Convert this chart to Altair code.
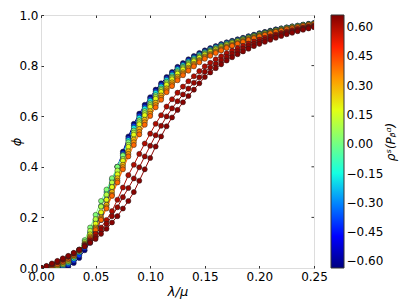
import altair as alt
import pandas as pd

# lambda/mu sample positions
lam_mu = [0.000, 0.005, 0.010, 0.015, 0.020, 0.025, 0.030, 0.035, 0.040, 0.045,
          0.050, 0.055, 0.060, 0.065, 0.070, 0.075, 0.080, 0.085, 0.090, 0.095,
          0.100, 0.105, 0.110, 0.115, 0.120, 0.125, 0.130, 0.135, 0.140, 0.145,
          0.150, 0.155, 0.160, 0.165, 0.170, 0.175, 0.180, 0.185, 0.190, 0.195,
          0.200, 0.205, 0.210, 0.215, 0.220, 0.225, 0.230, 0.235, 0.240, 0.245,
          0.250]

rho_values = [-0.63, -0.40, -0.18, 0.02, 0.10, 0.18, 0.28, 0.34, 0.40, 0.60, 0.63, 0.65]

phi_m063 = [0, 0, 0, 0, .002, .006, .02, .04, .07, .10, .14, .19, .25, .32, .40,
            .46, .52, .57, .61, .645, .675, .705, .73, .755, .775, .795, .81, .825, .838, .85,
            .86, .869, .877, .885, .892, .898, .904, .91, .916, .922, .928, .933, .938, .943,
            .947, .951, .955, .958, .962, .965, .968]
phi_m040 = [0, 0, 0, .002, .006, .014, .03, .05, .08, .12, .165, .215, .27, .335, .40,
            .453, .512, .562, .602, .637, .668, .698, .724, .749, .770, .790, .805, .821, .834, .846,
            .857, .866, .874, .883, .890, .896, .902, .908, .915, .921, .927, .932, .937, .942,
            .946, .950, .954, .957, .961, .964, .967]
phi_m018 = [0, 0, .002, .005, .011, .021, .038, .062, .097, .14, .19, .245, .30, .35, .40,
            .447, .505, .554, .594, .630, .661, .692, .717, .743, .764, .785, .801, .816, .830, .843,
            .854, .863, .872, .880, .888, .894, .900, .907, .913, .919, .925, .931, .936, .941,
            .945, .949, .953, .957, .961, .964, .967]
phi_p002 = [0, .001, .003, .007, .014, .025, .045, .07, .11, .16, .21, .265, .31, .355, .40,
            .445, .497, .543, .584, .620, .651, .683, .709, .736, .757, .778, .795, .811, .825, .838,
            .850, .859, .868, .877, .885, .892, .898, .905, .911, .918, .924, .929, .934, .940,
            .944, .948, .953, .956, .960, .963, .966]
phi_p010 = [0, .002, .004, .008, .016, .028, .046, .068, .103, .147, .193, .243, .29, .338, .385,
            .431, .487, .535, .576, .612, .644, .676, .703, .730, .752, .773, .790, .806, .821, .834,
            .846, .857, .866, .875, .883, .890, .896, .903, .910, .916, .923, .928, .933, .939,
            .943, .947, .952, .955, .959, .963, .966]
phi_p018 = [0, .002, .005, .01, .018, .03, .046, .067, .097, .133, .175, .22, .27, .32, .37,
            .424, .479, .527, .568, .604, .637, .669, .696, .724, .746, .768, .785, .802, .817, .831,
            .843, .854, .863, .872, .880, .888, .895, .901, .908, .915, .921, .927, .932, .938,
            .942, .947, .951, .954, .959, .962, .965]
phi_p028 = [0, .003, .007, .013, .022, .034, .05, .07, .095, .125, .16, .20, .25, .30, .355,
            .408, .461, .508, .549, .586, .620, .653, .682, .710, .734, .756, .774, .792, .807, .822,
            .836, .847, .857, .867, .875, .883, .890, .898, .905, .912, .918, .924, .930, .935,
            .940, .945, .949, .953, .957, .961, .964]
phi_p034 = [0, .0035, .008, .0145, .024, .036, .051, .07, .092, .12, .155, .195, .24, .29, .345,
            .399, .451, .497, .538, .576, .610, .644, .673, .702, .726, .749, .768, .786, .802, .818,
            .832, .843, .854, .863, .873, .880, .888, .895, .903, .910, .917, .922, .928, .934,
            .939, .944, .948, .952, .957, .960, .964]
phi_p040 = [0, .004, .009, .016, .026, .038, .053, .07, .09, .115, .15, .19, .235, .285, .338,
            .390, .441, .486, .528, .566, .601, .635, .665, .695, .719, .742, .762, .780, .797, .813,
            .827, .839, .850, .860, .870, .878, .886, .893, .901, .908, .915, .921, .927, .933,
            .938, .943, .947, .951, .956, .959, .963]
phi_p060 = [0, .006, .013, .022, .032, .044, .058, .073, .09, .11, .135, .16, .19, .225, .27,
            .318, .367, .408, .451, .492, .531, .570, .604, .638, .667, .693, .717, .738, .758, .778,
            .797, .811, .825, .837, .849, .859, .869, .878, .887, .895, .903, .910, .916, .923,
            .929, .935, .940, .945, .950, .954, .958]
phi_p063 = [0, .007, .016, .025, .035, .046, .058, .072, .087, .103, .122, .15, .175, .205, .24,
            .280, .316, .354, .398, .441, .483, .525, .562, .599, .631, .659, .686, .709, .732, .754,
            .776, .792, .807, .821, .834, .846, .857, .867, .877, .886, .894, .902, .909, .917,
            .923, .929, .935, .940, .946, .951, .955]
phi_p065 = [0, .008, .018, .028, .038, .048, .06, .072, .085, .10, .115, .135, .155, .18, .205,
            .235, .265, .30, .345, .39, .435, .48, .52, .56, .595, .625, .655, .68, .705, .73,
            .755, .773, .79, .805, .82, .833, .845, .856, .867, .877, .886, .894, .902, .91,
            .917, .924, .93, .936, .942, .947, .952]

curves = [phi_m063, phi_m040, phi_m018, phi_p002, phi_p010, phi_p018, phi_p028,
          phi_p034, phi_p040, phi_p060, phi_p063, phi_p065]

x_ticks = [0.00, 0.05, 0.10, 0.15, 0.20, 0.25]
y_ticks = [0.0, 0.2, 0.4, 0.6, 0.8, 1.0]
frame_y_ticks = [0.2, 0.4, 0.6, 0.8]
cbar_ticks = [-0.60, -0.45, -0.30, -0.15, 0.00, 0.15, 0.30, 0.45, 0.60]
cbar_range = [-0.637, 0.66]
cbar_label = "ρˢ(Pᵦᵅ)"

# jet colormap stops across the colorbar range
jet_domain = [-0.637, -0.475, -0.313, -0.151, 0.0115, 0.174, 0.336, 0.498, 0.66]
jet_range = ["#000080", "#0000ff", "#0080ff", "#14ffe2", "#7bff7b",
             "#e2ff14", "#ff9700", "#ff2100", "#800000"]

rows = []
for ci, (rho, ys) in enumerate(zip(rho_values, curves)):
    for xv, yv in zip(lam_mu, ys):
        rows.append({"curve": ci, "rho": rho, "lam": xv, "phi": yv})
df = pd.DataFrame(rows)

FONT = "DejaVu Sans"

xs = alt.Scale(domain=[0, 0.25], nice=False, zero=False)
ys_ = alt.Scale(domain=[0, 1.0], nice=False, zero=False)
cs = alt.Scale(type="linear", domain=jet_domain, range=jet_range, interpolate="rgb")

x_axis = alt.Axis(values=x_ticks, format=".2f", title="λ/μ", titleFont=FONT,
                  titleFontSize=13, titleFontStyle="italic", titleFontWeight="normal",
                  titleColor="black", titlePadding=3, labelFont=FONT, labelFontSize=12,
                  labelColor="black", labelPadding=3, domain=False, grid=False,
                  tickSize=2.5, offset=-2.5, tickColor="#333", labelFlush=False,
                  labelOverlap=False, orient="bottom")
y_axis = alt.Axis(values=y_ticks, format=".1f", title="ϕ", titleFont=FONT,
                  titleFontSize=13, titleFontStyle="italic", titleFontWeight="normal",
                  titleColor="black", titleX=-27, titleY=126.5, titleAlign="center",
                  titleBaseline="middle", titleAngle=270,
                  labelFont=FONT, labelFontSize=12,
                  labelColor="black", labelPadding=3, domain=False, grid=False,
                  tickSize=2.5, offset=-2.5, tickColor="#333", labelFlush=False,
                  labelOverlap=False, orient="left")
x_top = alt.Axis(values=x_ticks, labels=False, title=None, domain=False, grid=False,
                 tickSize=2.5, offset=-2.5, tickColor="#333", orient="top")
cbar_axis = alt.Axis(values=cbar_ticks, format=".2f", orient="right", offset=30,
                     title=cbar_label, titleFont=FONT, titleFontSize=12,
                     titleFontStyle="italic", titleFontWeight="normal", titleColor="black",
                     titleAngle=270, titlePadding=15, titleBaseline="bottom",
                     labelFont=FONT, labelFontSize=12, labelColor="black",
                     labelPadding=2, ticks=False, domain=False, grid=False,
                     labelFlush=False, labelOverlap=False)

base = alt.Chart(df)
color_enc = alt.Color("rho:Q", scale=cs, legend=None)

lines = base.mark_line(strokeWidth=1, clip=True).encode(
    x=alt.X("lam:Q", scale=xs, axis=x_axis),
    y=alt.Y("phi:Q", scale=ys_, axis=y_axis),
    color=color_enc,
    detail="curve:N",
)
points = base.mark_circle(size=26, stroke="#222", strokeWidth=0.5,
                          opacity=1, clip=True).encode(
    x=alt.X("lam:Q", scale=xs, axis=None),
    y=alt.Y("phi:Q", scale=ys_, axis=None),
    color=color_enc,
    detail="curve:N",
)
top_ticks = base.mark_point(opacity=0).encode(
    x=alt.X("lam:Q", scale=xs, axis=x_top),
    y=alt.Y("phi:Q", scale=ys_, axis=None),
)
right_ticks = alt.Chart(pd.DataFrame({"v": frame_y_ticks})).mark_rule(
    color="#333", strokeWidth=1
).encode(
    x=alt.datum(0.25, scale=xs, axis=None), x2=alt.datum(0.2477),
    y=alt.Y("v:Q", scale=ys_, axis=None),
)

jet_grad = alt.Gradient(
    gradient="linear", x1=0, x2=0, y1=1, y2=0,
    stops=[alt.GradientStop(color=c, offset=i / (len(jet_range) - 1))
           for i, c in enumerate(jet_range)],
)
cbar = alt.Chart(pd.DataFrame({"lo": [cbar_range[0]], "hi": [cbar_range[1]]})).mark_rect(
    fill=jet_grad, stroke="#333", strokeWidth=1
).encode(
    x=alt.value(290), x2=alt.value(303),
    y=alt.Y("lo:Q", scale=alt.Scale(domain=cbar_range, nice=False, zero=False),
            axis=cbar_axis),
    y2="hi:Q",
)

chart = alt.layer(lines, points, top_ticks, right_ticks, cbar).resolve_axis(
    x="independent", y="independent"
).resolve_scale(y="independent").properties(
    width=273, height=253,
    padding={"left": 33, "top": 7, "right": 85, "bottom": 31},
    autosize="none",
).configure_view(stroke="#444", strokeWidth=1).configure(background="white")

chart.save("out.html", embed_options={"renderer": "svg", "actions": False})
